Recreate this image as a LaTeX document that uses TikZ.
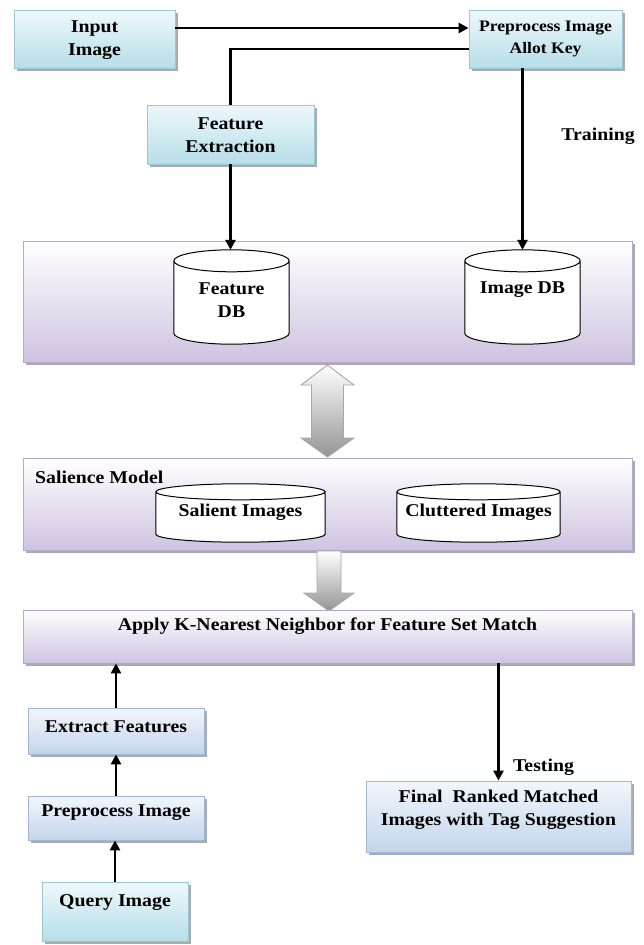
\documentclass[tikz,border=0pt]{standalone}
\usepackage{fontspec}
\setmainfont{Liberation Serif}[FakeStretch=1.1]
\usetikzlibrary{arrows.meta,shadows,calc}
\definecolor{cyT}{HTML}{EEF8FB}
\definecolor{cyD}{HTML}{B6DEE8}
\definecolor{cyB}{HTML}{9CC6D3}
\definecolor{blT}{HTML}{F2F6FB}
\definecolor{blD}{HTML}{C3D5EC}
\definecolor{blB}{HTML}{A2B7D5}
\definecolor{lvM}{HTML}{F1EDF6}
\definecolor{lvD}{HTML}{CFC3E0}
\definecolor{lvB}{HTML}{B5A8CA}
\newcommand\mycyl[2]{\filldraw[cylline] let \p1=(#1.north west), \p2=(#1.south east), \n1={(\x2-\x1)/2} in
 ({\x1},{\y1-#2}) -- ({\x1},{\y2+#2}) arc[start angle=180,end angle=360,x radius=\n1,y radius=#2] -- ({\x2},{\y1-#2}) arc[start angle=0,end angle=180,x radius=\n1,y radius=#2] -- cycle
 ({\x1},{\y1-#2}) arc[start angle=180,end angle=360,x radius=\n1,y radius=#2];}
\begin{document}
\begin{tikzpicture}[x=1pt,y=-1pt,
  every node/.style={font=\bfseries\fontsize{18}{23}\selectfont, inner sep=0pt, align=center},
  shad/.style={drop shadow={shadow xshift=2.5pt, shadow yshift=-2.5pt, fill=black!55, opacity=0.6}},
  cybox/.style={rectangle, draw=cyB, line width=0.8pt, top color=cyT, bottom color=cyD, shad},
  blbox/.style={rectangle, draw=blB, line width=0.8pt, top color=blT, bottom color=blD, shad},
  lvbox/.style={rectangle, draw=lvB, line width=0.9pt, top color=white, middle color=lvM, bottom color=lvD, shad},
  cylbox/.style={rectangle},
  cylline/.style={fill=white, draw=black, line width=1pt},
  arr/.style={line width=2.8pt, -{Triangle[length=10pt,width=10pt]}},
  plain/.style={line width=2.8pt},
  blk/.style={draw=black!35, line width=0.9pt, top color=white, bottom color=black!42}
]
\useasboundingbox (0,0) rectangle (643,945);

% top boxes
\node[cybox, minimum width=161pt, minimum height=58pt] (inp) at (94.5,39) {};
\node (tinp) at (94.5,40) {Input\\Image};
\node[cybox, minimum width=153pt, minimum height=58pt] (pre) at (545.5,39) {};
\node[font=\bfseries\fontsize{16}{21.5}\selectfont] (tpre) at (545.5,39) {Preprocess Image\\Allot Key};
\node[cybox, minimum width=167pt, minimum height=59pt] (fe) at (230.5,134.5) {};
\node (tfe) at (230.5,135) {Feature\\Extraction};
\node (train) at (598,136) {Training};

% database layer
\node[lvbox, minimum width=609pt, minimum height=121pt] (dbl) at (327.5,301.5) {};
\node[cylbox, minimum width=115pt, minimum height=94pt] (fdb) at (231.5,297) {};
\node[cylbox, minimum width=115pt, minimum height=94pt] (idb) at (522.5,297) {};
\mycyl{fdb}{11pt}
\mycyl{idb}{11pt}
\node (tfdb) at (231.5,300) {Feature\\DB};
\node (tidb) at (522.5,290) {Image DB};

% connectors top
\draw[arr] ([yshift=11pt]inp.east) -- ([yshift=11pt]pre.west);
\draw[plain] ([yshift=-10pt]pre.west) -| (fe.north);
\draw[arr] (fe.south) -- (fe.south |- fdb.north);
\draw[arr] (idb.north |- pre.south) -- (idb.north);

% double block arrow
\draw[blk] (327.5,365) -- (354,385) -- (343.5,385) -- (343.5,438) -- (354,438) -- (327.5,457)
  -- (301,438) -- (311.5,438) -- (311.5,385) -- (301,385) -- cycle;

% salience layer
\node[lvbox, minimum width=609pt, minimum height=92pt] (sal) at (327.5,504) {};
\node[anchor=west] (tsal) at (35,477.5) {Salience Model};
\node[cylbox, minimum width=169pt, minimum height=58pt] (sim) at (240.5,513) {};
\node[cylbox, minimum width=163pt, minimum height=58pt] (cim) at (478.5,513) {};
\mycyl{sim}{8pt}
\mycyl{cim}{8pt}
\node (tsim) at (240.5,512) {Salient Images};
\node (tcim) at (478.5,512) {Cluttered Images};

% down block arrow
\draw[blk] (317,551) -- (341,551) -- (341,593) -- (354,593) -- (329,611) -- (304,593) -- (317,593) -- cycle;

% knn layer
\node[lvbox, minimum width=609pt, minimum height=53pt] (knn) at (327.5,636.5) {};
\node (tknn) at (327.5,626) {Apply K-Nearest Neighbor for Feature Set Match};

% query side
\node[blbox, minimum width=176pt, minimum height=46pt] (ef) at (116,731) {};
\node (tef) at (116,727) {Extract Features};
\node[blbox, minimum width=176pt, minimum height=44pt] (pp) at (116,818) {};
\node (tpp) at (116,813) {Preprocess Image};
\node[cybox, minimum width=146pt, minimum height=59pt] (q) at (115,911.5) {};
\node (tq) at (115,903) {Query Image};
\draw[arr] (ef.north) -- (ef.north |- knn.south);
\draw[arr] (pp.north) -- (ef.south);
\draw[arr] (q.north) -- (q.north |- pp.south);

% result
\node[blbox, minimum width=265pt, minimum height=71pt] (fin) at (498.5,816.5) {};
\node (tfin) at (498.5,810) {Final~ Ranked Matched\\Images with Tag Suggestion};
\draw[arr] (fin.north |- knn.south) -- (fin.north);
\node (test) at (543.5,767) {Testing};
\end{tikzpicture}
\end{document}
